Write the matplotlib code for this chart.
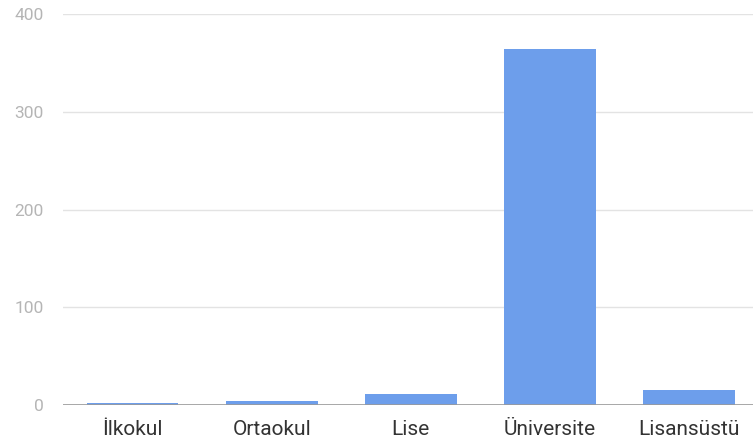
import matplotlib
matplotlib.use("Agg")
import matplotlib.pyplot as plt

categories = ["İlkokul", "Ortaokul", "Lise", "Üniversite", "Lisansüstü"]
counts = [2, 4, 11, 364, 15]
y_ticks = [0, 100, 200, 300, 400]

plt.rcParams["font.family"] = ["Roboto", "DejaVu Sans"]

fig = plt.figure(figsize=(7.53, 4.44), dpi=100)
ax = fig.add_axes([0.0837, 0.0878, 0.9236, 0.8807])

x = range(len(categories))
ax.bar(x, counts, width=0.66, color="#6d9eeb", zorder=3)

ax.set_xlim(-0.5, len(categories) - 0.5)
ax.set_ylim(0, 400)
ax.set_yticks(y_ticks)
ax.set_yticklabels([str(v) for v in y_ticks])
ax.set_xticks(list(x))
ax.set_xticklabels(categories)

ax.grid(axis="y", color="#e3e3e3", linewidth=1, zorder=0)
ax.axhline(0, color="#9a9a9a", linewidth=1.2, zorder=4)

for side in ["top", "right", "left", "bottom"]:
    ax.spines[side].set_visible(False)

ax.tick_params(axis="y", length=0, pad=14, labelsize=12.5, labelcolor="#b5b5b5")
ax.tick_params(axis="x", length=0, pad=11, labelsize=15, labelcolor="#333333")

fig.savefig("out.png", dpi=100)
